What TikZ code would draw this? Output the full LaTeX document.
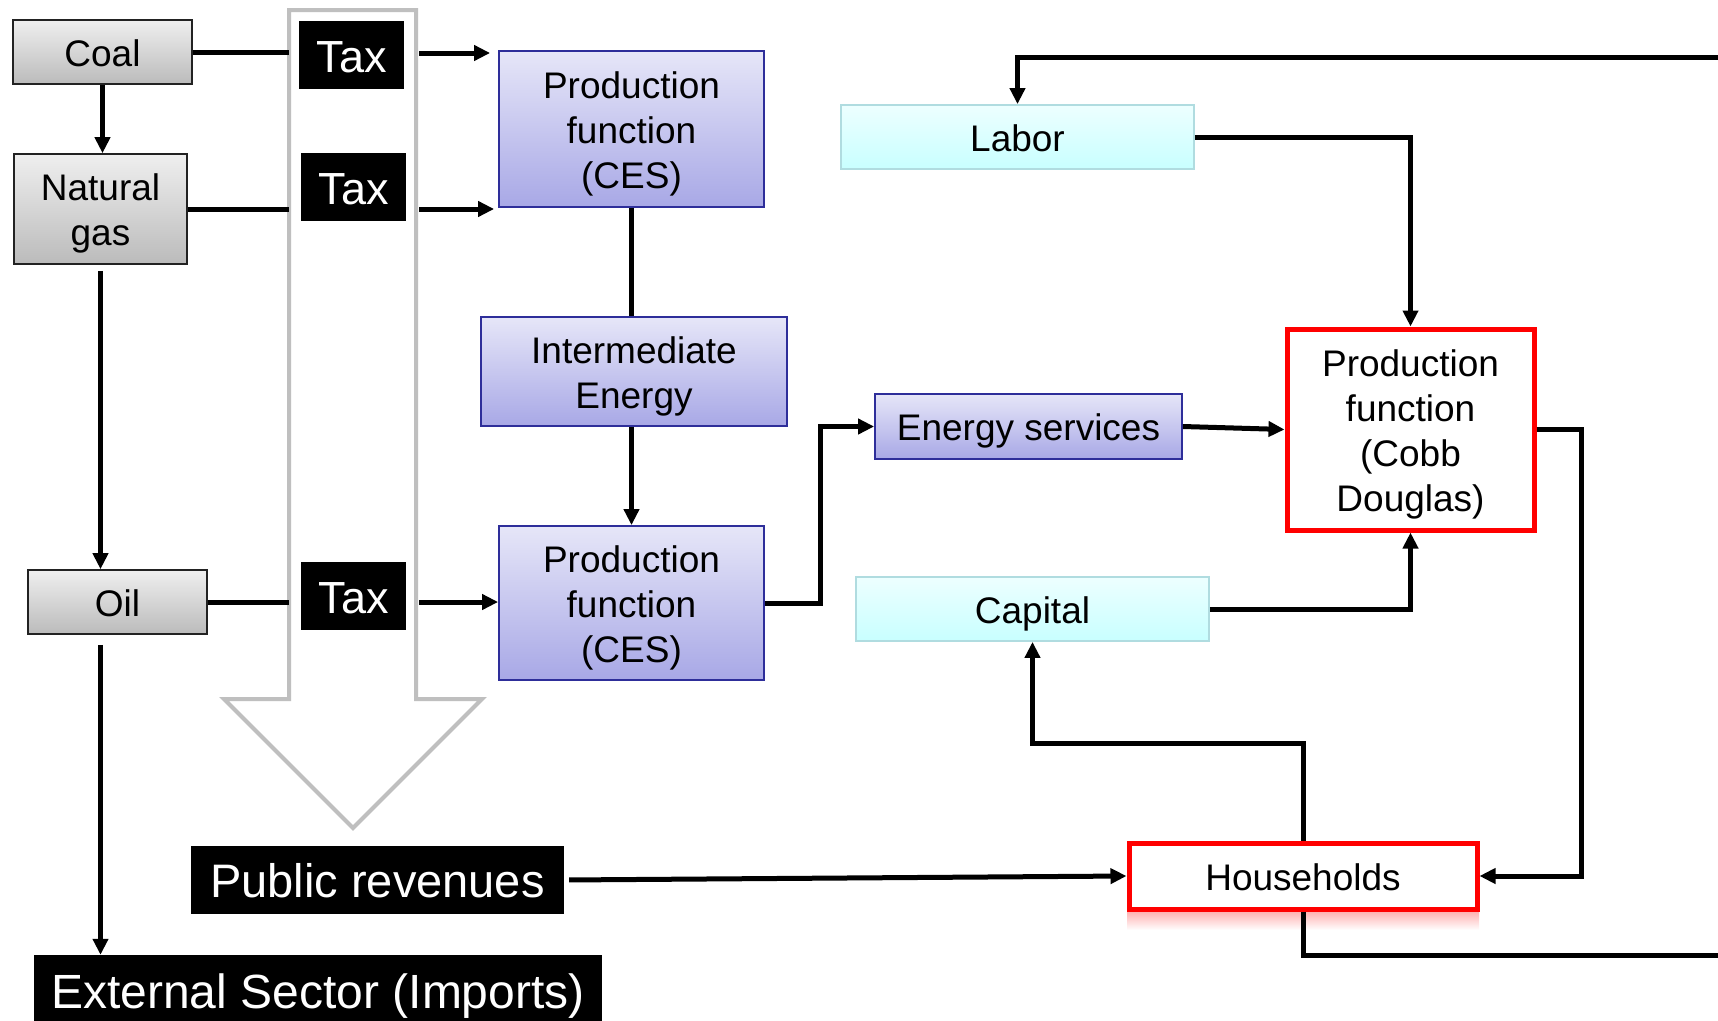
\documentclass[tikz,border=0pt]{standalone}
\usepackage{fontspec}
\setmainfont{Liberation Sans}
\usetikzlibrary{arrows.meta,calc}
\definecolor{fuelTop}{HTML}{EFEFEF}
\definecolor{fuelBot}{HTML}{BBBBBB}
\definecolor{fuelLine}{HTML}{222222}
\definecolor{cesTop}{HTML}{E6E6F8}
\definecolor{cesBot}{HTML}{A8A8E6}
\definecolor{cesLine}{HTML}{2E2E9A}
\definecolor{facTop}{HTML}{EDFFFF}
\definecolor{facBot}{HTML}{C8FFFF}
\definecolor{facLine}{HTML}{B0DCE0}
\definecolor{revArrow}{HTML}{BFBFBF}
\definecolor{hhRed}{HTML}{FF0000}
% struts: fixed line box so text sits like a slide text frame
\newcommand\tp{\rule{0pt}{1.01em}}
\newcommand\bt{\rule[-0.25em]{0pt}{0.25em}}
\begin{document}
\begin{tikzpicture}[x=1pt,y=-1pt,
  conn/.style={line width=5pt, draw=black},
  arr/.style={conn, -{Triangle[length=16pt,width=15pt]}},
  base/.style={rectangle, inner sep=0pt, align=center, font=\fontsize{37}{45}\selectfont},
  fuel/.style={base, draw=fuelLine, line width=1.6pt, top color=fuelTop, bottom color=fuelBot},
  ces/.style={base, draw=cesLine, line width=1.8pt, top color=cesTop, bottom color=cesBot},
  factor/.style={base, draw=facLine, line width=1.8pt, top color=facTop, bottom color=facBot},
  redbox/.style={base, draw=hhRed, line width=5pt, fill=white},
  blackbox/.style={rectangle, inner sep=0pt, fill=black, text=white, align=center},
  taxbox/.style={blackbox, minimum width=105pt, minimum height=68pt, font=\fontsize{45}{54}\selectfont},
]
\useasboundingbox (0,0) rectangle (1718,1020);
\fill[white] (0,0) rectangle (1718,1020);

% big hollow revenue arrow
\draw[revArrow, line width=4pt, fill=white, line join=miter]
  (289,10) -- (416,10) -- (416,699) -- (482,699) -- (353,828) -- (224,699) -- (289,699) -- cycle;
\coordinate (shL) at (289,0);
\coordinate (shR) at (416,0);

% fuels
\node[fuel, minimum width=179pt, minimum height=64pt] (coal) at (102.5,52) {\tp Coal\bt};
\node[fuel, minimum width=173pt, minimum height=110pt] (gas) at (100.5,209) {\tp Natural\\gas\bt};
\node[fuel, minimum width=179pt, minimum height=64pt] (oil) at (117.5,602) {\tp Oil\bt};

% taxes
\node[taxbox] (tax1) at (351.5,55) {\tp Tax\bt};
\node[taxbox] (tax2) at (353.5,187) {\tp Tax\bt};
\node[taxbox] (tax3) at (353.5,596) {\tp Tax\bt};

% CES block
\node[ces, minimum width=265pt, minimum height=156pt] (pf1) at (631.5,129) {\tp Production\\function\\(CES)\bt};
\node[ces, minimum width=306pt, minimum height=109pt] (ie) at (634,371.5) {\tp Intermediate\\Energy\bt};
\node[ces, minimum width=265pt, minimum height=154pt] (pf2) at (631.5,603) {\tp Production\\function\\(CES)\bt};
\node[ces, minimum width=307pt, minimum height=65pt] (es) at (1028.5,426.5) {\tp Energy services\bt};

% factors
\node[factor, minimum width=353pt, minimum height=64pt] (labor) at (1017.5,137) {\tp Labor\bt};
\node[factor, minimum width=353pt, minimum height=64pt] (capital) at (1032.5,609) {\tp Capital\bt};

% Cobb Douglas and households
\node[redbox, minimum width=247pt, minimum height=201pt] (cd) at (1410.5,429.5) {\tp Production\\function\\(Cobb\\Douglas)\bt};
\shade[top color=hhRed!30, bottom color=white] (1127,912) rectangle (1479,930);
\node[redbox, minimum width=348pt, minimum height=66pt] (hh) at (1303,876) {\tp Households\bt};

% public revenues, external sector
\node[blackbox, minimum width=373pt, minimum height=68pt, font=\fontsize{47}{56}\selectfont] (pr) at (377.5,880) {\tp Public revenues\bt};
\node[blackbox, minimum width=568pt, minimum height=70pt, font=\fontsize{48}{58}\selectfont] (ext) at (318,990) {\tp External Sector (Imports)\bt};

% fuel chain
\draw[arr] (coal.south) -- (coal.south |- gas.north);
\draw[arr, shorten <=6pt] (gas.south) -- (gas.south |- oil.north);
\draw[arr, shorten <=10pt] (oil.south -| gas.south) -- (gas.south |- ext.north);

% fuels through taxes to CES
\draw[conn] (coal.east) -- (coal.east -| shL);
\draw[arr, shorten <=3pt, shorten >=8pt] (shR |- 0,53) -- (pf1.west |- 0,53);
\draw[conn] (gas.east) -- (gas.east -| shL);
\draw[arr, shorten <=3pt, shorten >=4pt] (shR |- gas.east) -- (pf1.west |- gas.east);
\draw[conn] (oil.east) -- (oil.east -| shL);
\draw[arr, shorten <=3pt] (shR |- oil.east) -- (pf2.west |- oil.east);

% CES chain
\draw[conn] (pf1.south) -- (pf1.south |- ie.north);
\draw[arr] (ie.south -| pf1.south) -- (pf2.north);
\coordinate (esKnee) at (820,0);
\draw[arr] (pf2.east) -- (pf2.east -| esKnee) |- (es.west);
\draw[arr] (es.east) -- (cd.west);

% factors into Cobb Douglas
\draw[arr] (labor.east) -| (cd.north);
\draw[arr] (capital.east) -| (cd.south);

% Cobb Douglas to households
\coordinate (cdKnee) at (1581,0);
\draw[arr] (cd.east) -- (cd.east -| cdKnee) |- (hh.east);

% public revenues to households
\draw[arr, shorten <=5pt] (pr.east) -- (hh.west);

% households to capital
\coordinate (hhKnee) at (0,743);
\draw[arr] (hh.north) -- (hh.north |- hhKnee) -| (capital.south);

% loop leaving and re-entering the picture
\coordinate (loopOut) at (1730,955);
\coordinate (loopIn) at (1730,57);
\draw[conn] (hh.south) |- (loopOut);
\draw[arr] (loopIn) -| (labor.north);
\end{tikzpicture}
\end{document}
